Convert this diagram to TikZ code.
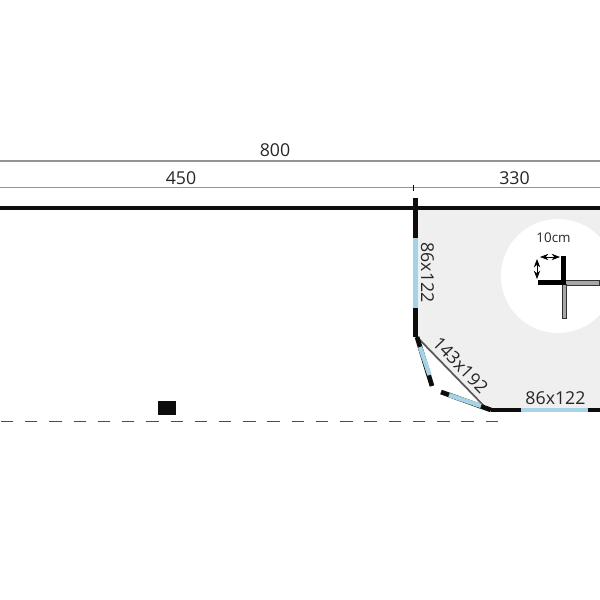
\documentclass[tikz,border=0pt]{standalone}
\usepackage{fontspec}
\setmainfont{Open Sans}
\usetikzlibrary{arrows.meta}
\definecolor{floorgrey}{HTML}{EFEFEF}
\definecolor{glassblue}{HTML}{A6D3E6}
\tikzset{
    wall/.style={line width=2.7pt, black!95},
    glass/.style={line width=2.5pt, glassblue},
    dimline/.style={line width=0.8pt, black!42},
    dimtext/.style={font=\fontsize{10.1}{12}\selectfont, text=black!85, inner sep=0pt},
    bar/.style={draw=black!80, fill=black!35, line width=0.5pt}
}
\begin{document}
\begin{tikzpicture}[x=0.02cm, y=-0.02cm]
    \clip (0,0) rectangle (600,600);
    \useasboundingbox (0,0) rectangle (600,600);

    % Floor with the white circle
    \fill[floorgrey] (416,208) -- (600,208) -- (600,410) -- (491,410) -- (416,338) -- cycle;
    \fill[white] (558,276) circle (57);

    % Dimension lines
    \draw[dimline] (0,161) -- (600,161);
    \draw[dimline] (0,187.5) -- (600,187.5);
    \draw[line width=0.5pt, black] (413,184.5) -- (413,190.5);
    \node[dimtext] (total) at (275,150.5) {800};
    \node[dimtext] (left) at (181,178) {450};
    \node[dimtext] (right) at (514.5,178) {330};

    % Walls
    \draw[wall] (0,208) -- (600,208);
    \draw[wall] (415.5,198) -- (415.5,337);
    \draw[wall] (491,410) -- (600,410);
    \draw[line width=1pt, black!65] (418,338) -- (486,408);

    % Windows
    \draw[glass] (415.5,238) -- (415.5,308);
    \draw[glass] (521,410) -- (588,410);
    \draw[wall] (417,337) -- (432,386);
    \draw[glass] (420,347) -- (429.5,375);
    \draw[wall] (441,392) -- (491,410);
    \draw[glass] (449,395) -- (481,406);
    \node[dimtext, rotate=-90] (winleft) at (427.5,272.5) {86x122};
    \node[dimtext, rotate=-46] (windiag) at (460.5,365) {143x192};
    \node[dimtext] (winbottom) at (555.5,398.5) {86x122};

    % Post with wall thickness
    \fill[bar] (564,280) rectangle (599,285);
    \fill[bar] (562,284) rectangle (566.5,318);
    \fill[black] (561.5,256) rectangle (566.5,285);
    \fill[black] (538,280) rectangle (564,285);
    \draw[Stealth-Stealth, line width=0.4pt] (540,257) -- (560,257);
    \draw[Stealth-Stealth, line width=0.4pt] (537,259) -- (537,279);
    \node[font=\fontsize{7.6}{9}\selectfont, text=black!85, inner sep=0pt] (post) at (553.5,238) {10cm};

    % Front line with the block
    \draw[line width=0.6pt, black!70, dash pattern=on 7pt off 6.8pt] (498,421.5) -- (0,421.5);
    \fill[black!95] (158.5,401) rectangle (176.5,415);
\end{tikzpicture}
\end{document}
